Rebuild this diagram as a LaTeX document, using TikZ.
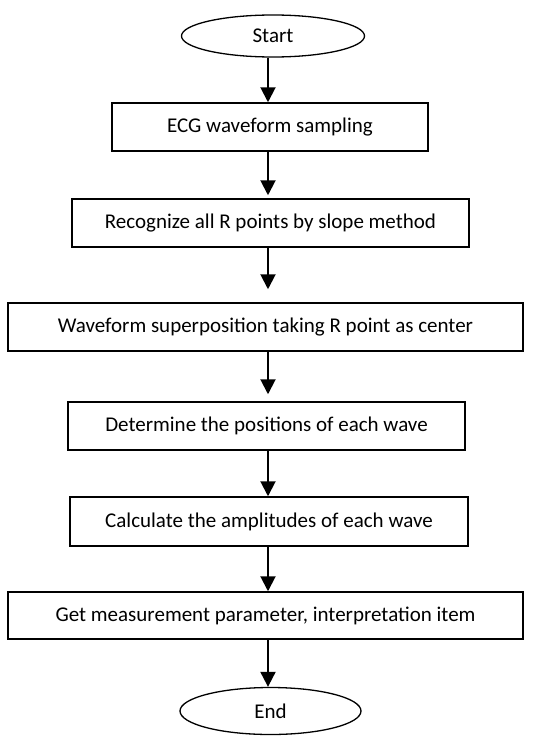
\documentclass[tikz,border=0pt]{standalone}
\usepackage{fontspec}
\setmainfont{Carlito}
\usetikzlibrary{arrows.meta,shapes.geometric}
\begin{document}
\begin{tikzpicture}[x=1pt,y=-1pt,
 box/.style={draw,line width=1.5pt,minimum height=48pt,inner sep=0pt,font=\fontsize{21}{24}\selectfont},
 term/.style={draw,ellipse,line width=1.3pt,inner sep=0pt,font=\fontsize{21}{24}\selectfont},
 arr/.style={line width=2pt,-{Triangle[width=15pt,length=15pt]}}]
\useasboundingbox (0,0) rectangle (534,736);
\coordinate (ax) at (268,0);
\node[term,minimum width=183pt,minimum height=42pt] (start) at (273,36) {Start};
\node[box,minimum width=316pt] (b1) at (270,127) {ECG waveform sampling};
\node[box,minimum width=397pt] (b2) at (270.5,223) {Recognize all R points by slope method};
\node[box,minimum width=515pt] (b3) at (265.5,327) {Waveform superposition taking R point as center};
\node[box,minimum width=397pt] (b4) at (266.5,426) {Determine the positions of each wave};
\node[box,minimum width=398pt,minimum height=49pt] (b5) at (269,521.5) {Calculate the amplitudes of each wave};
\node[box,minimum width=515pt,minimum height=47pt] (b6) at (265.5,615.5) {Get measurement parameter, interpretation item};
\node[term,minimum width=181pt,minimum height=47pt] (end) at (270.5,711) {End};
\draw[arr] (start.south -| ax) -- (b1.north -| ax);
\draw[arr,shorten >=3pt] (b1.south -| ax) -- (b2.north -| ax);
\draw[arr,shorten >=13pt] (b2.south -| ax) -- (b3.north -| ax);
\draw[arr,shorten >=7pt] (b3.south -| ax) -- (b4.north -| ax);
\draw[arr] (b4.south -| ax) -- (b5.north -| ax);
\draw[arr] (b5.south -| ax) -- (b6.north -| ax);
\draw[arr] (b6.south -| ax) -- (end.north -| ax);
\end{tikzpicture}
\end{document}
